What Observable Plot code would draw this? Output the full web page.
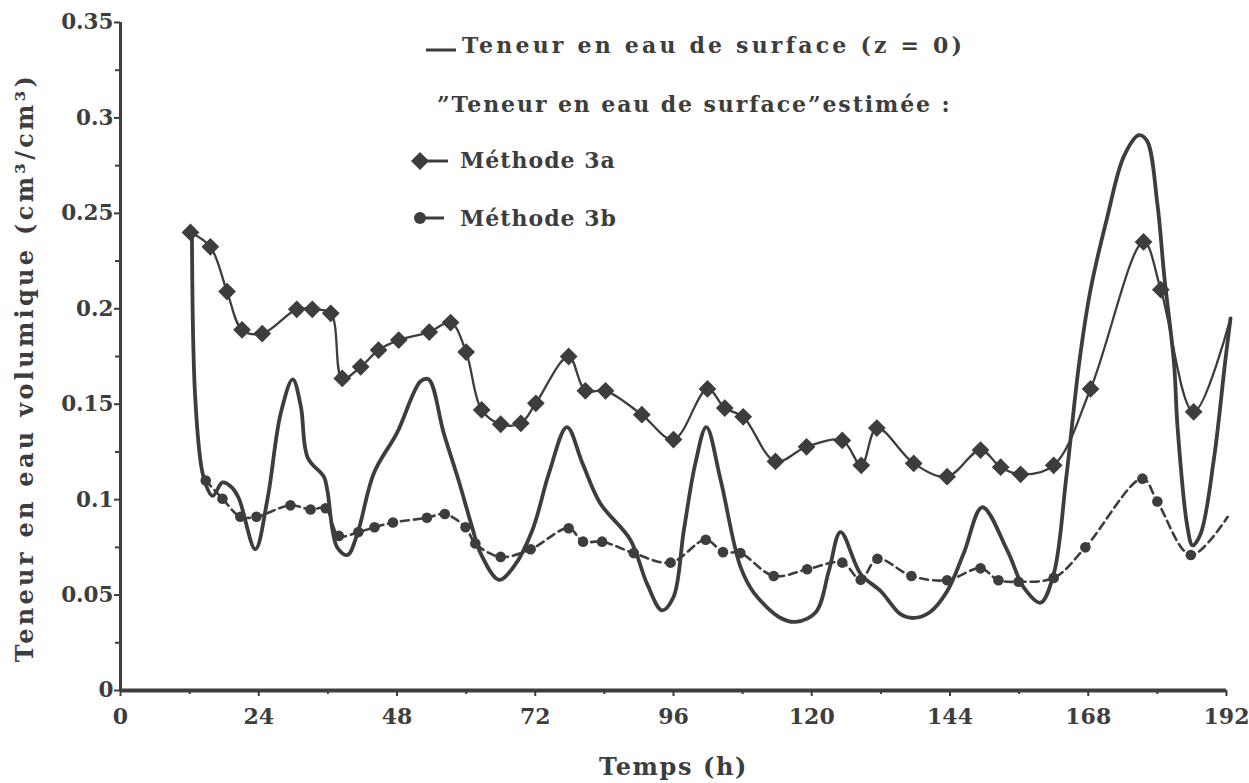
<!DOCTYPE html>
<html>
<head>
<meta charset="utf-8">
<script src="https://cdn.jsdelivr.net/npm/d3@7"></script>
<script src="https://cdn.jsdelivr.net/npm/@observablehq/plot@0.6"></script>
<style>
  html, body { margin: 0; padding: 0; background: #fff; }
  #wrap { position: relative; width: 1249px; height: 783px; }
  svg text { font-family: "DejaVu Serif", serif; font-weight: bold; fill: #3d3d3d; }
  .leg { position: absolute; font-family: "DejaVu Serif", serif; font-weight: bold; font-size: 22px;
         color: #3d3d3d; white-space: pre; line-height: 26px; }
  .sym { position: absolute; }
</style>
</head>
<body>
<div id="wrap"></div>
<script>
// ---- data ----
const surfaceT = [12.4,13.0,14.4,16.0,17.7,19.1,20.5,23.4,25.5,27.8,29.9,31.3,32.5,35.3,35.9,37.6,39.4,41.1,44.0,48.0,52.1,53.5,56.1,58.7,61.0,62.5,65.7,68.3,71.5,74.4,77.5,80.2,83.3,88.5,91.4,94.0,96.0,97.8,99.8,101.7,104.2,107.6,110.0,114.6,117.2,120.7,123.0,125.0,128.5,132.0,135.4,137.7,140.5,143.5,146.4,149.6,154.0,156.8,159.7,162.0,164.2,166.4,168.4,171.3,174.2,176.8,178.2,180.0,181.2,182.9,183.5,185.2,186.1,187.5,189.8,191.8,192.7];
const surfaceV = [0.240,0.152,0.112,0.102,0.109,0.107,0.101,0.074,0.100,0.145,0.163,0.149,0.122,0.112,0.105,0.075,0.071,0.082,0.114,0.135,0.162,0.163,0.135,0.110,0.086,0.072,0.058,0.065,0.084,0.114,0.138,0.119,0.098,0.079,0.056,0.042,0.049,0.084,0.119,0.138,0.110,0.065,0.051,0.038,0.036,0.041,0.063,0.083,0.061,0.052,0.040,0.038,0.041,0.052,0.072,0.096,0.073,0.054,0.046,0.061,0.112,0.171,0.210,0.248,0.280,0.291,0.288,0.255,0.217,0.171,0.138,0.086,0.076,0.082,0.121,0.173,0.195];

const m3aT = [12.15,15.6,18.5,21.1,24.6,30.6,33.3,36.5,38.5,41.7,44.8,48.3,53.6,57.3,60.0,62.7,66.0,69.5,72.1,77.8,80.7,84.2,90.5,96.0,101.9,104.9,108.1,113.7,119.1,125.3,128.6,131.3,137.7,143.5,149.3,152.8,156.25,162.0,168.4,177.6,180.6,186.3];
const m3aV = [0.240,0.2325,0.209,0.189,0.187,0.1997,0.1997,0.1976,0.1635,0.1696,0.1784,0.1836,0.1878,0.1928,0.1773,0.147,0.1395,0.140,0.1505,0.175,0.157,0.157,0.1445,0.1315,0.158,0.148,0.1434,0.120,0.1277,0.131,0.118,0.1375,0.119,0.112,0.126,0.117,0.1133,0.118,0.158,0.235,0.210,0.146];
const m3aEnd = [192.7, 0.195];

const m3bT = [14.8,17.7,20.8,23.6,29.5,33.0,35.6,37.9,41.3,44.1,47.3,53.2,56.3,59.9,61.6,66.0,71.2,77.8,80.3,83.6,89.1,95.5,101.6,104.6,107.6,113.4,119.2,125.3,128.5,131.4,137.3,143.5,149.3,152.4,155.9,162.0,167.5,177.4,180.0,185.8];
const m3bV = [0.110,0.1005,0.091,0.091,0.097,0.0948,0.0955,0.081,0.083,0.0855,0.088,0.0905,0.0925,0.0855,0.077,0.070,0.074,0.085,0.078,0.078,0.072,0.067,0.079,0.0725,0.072,0.060,0.0635,0.067,0.058,0.069,0.060,0.0578,0.064,0.0578,0.057,0.059,0.075,0.111,0.099,0.071];
const m3bEnd = [192.2, 0.091];

const xMajor = [0,24,48,72,96,120,144,168,192];
const xMinor = [12,36,60,84,108,132,156,180];
const yMajor = [0,0.05,0.1,0.15,0.2,0.25,0.3,0.35];
const yTickLabels = ["0","0.05","0.1","0.15","0.2","0.25","0.3","0.35"];
const yMinor = [0.025,0.075,0.125,0.175,0.225,0.275,0.325];

const xLabel = "Temps (h)";
const yLabel = "Teneur en eau volumique (cm³/cm³)";
const legendLabels = ["Teneur en eau de surface (z = 0)", "”Teneur en eau de surface”estimée :", "Méthode 3a", "Méthode 3b"];

// ---- build tables ----
const surface = surfaceT.map((t, i) => ({t, v: surfaceV[i]}));
const m3a = m3aT.map((t, i) => ({t, v: m3aV[i]}));
const m3b = m3bT.map((t, i) => ({t, v: m3bV[i]}));
const m3aLine = m3a.concat([{t: m3aEnd[0], v: m3aEnd[1]}]);
const m3bLine = m3b.concat([{t: m3bEnd[0], v: m3bEnd[1]}]);

const ink = "#3d3d3d";

const chart = Plot.plot({
  width: 1249,
  height: 783,
  marginLeft: 120,
  marginRight: 23,
  marginTop: 22,
  marginBottom: 93,
  x: {domain: [0, 192]},
  y: {domain: [0, 0.35]},
  style: {background: "#fff", color: ink, fontSize: "20px", fontFamily: "DejaVu Serif"},
  marks: [
    Plot.axisY({ticks: yMajor, tickFormat: (d, i) => yTickLabels[i], tickSize: 6, tickPadding: 1, fontSize: 21.5, label: null, stroke: ink, strokeWidth: 2}),
    Plot.axisY({ticks: yMinor, tickFormat: () => "", tickSize: 5, label: null, stroke: ink, strokeWidth: 2}),
    Plot.axisX({ticks: xMajor, tickSize: 6, tickPadding: 12, fontSize: 22, label: null, stroke: ink, strokeWidth: 2}),
    Plot.axisX({ticks: xMinor, tickFormat: () => "", tickSize: 4, label: null, stroke: ink, strokeWidth: 2}),
    Plot.ruleX([0], {stroke: ink, strokeWidth: 3}),
    Plot.ruleY([0], {stroke: ink, strokeWidth: 4}),
    Plot.text([yLabel], {frameAnchor: "left", textAnchor: "middle", rotate: -90, dx: -95, dy: 11, fontSize: 24, fill: ink}),
    Plot.text([xLabel], {frameAnchor: "bottom", dy: 84, fontSize: 24, fill: ink}),
    Plot.line(surface, {x: "t", y: "v", stroke: ink, strokeWidth: 3.8, curve: "catmull-rom"}),
    Plot.line(m3aLine, {x: "t", y: "v", stroke: ink, strokeWidth: 2.3, curve: "catmull-rom"}),
    Plot.line(m3bLine, {x: "t", y: "v", stroke: ink, strokeWidth: 2.6, strokeDasharray: "8,5", curve: "catmull-rom"}),
    Plot.dot(m3a, {x: "t", y: "v", symbol: "diamond2", r: 8, fill: ink, stroke: null}),
    Plot.dot(m3b, {x: "t", y: "v", symbol: "circle", r: 5.3, fill: ink, stroke: null})
  ]
});

// letter spacing of the axis titles (matched by their text)
chart.querySelectorAll("text").forEach(t => {
  if (t.textContent === yLabel) t.style.letterSpacing = "3.3px";
  if (t.textContent === xLabel) t.style.letterSpacing = "1.6px";
});

const wrap = document.getElementById("wrap");
wrap.appendChild(chart);

// ---- legend (HTML overlay) ----
function add(html, style, cls) {
  const el = document.createElement("div");
  el.className = cls;
  Object.assign(el.style, style);
  el.innerHTML = html;
  wrap.appendChild(el);
  return el;
}
add(`<svg width="34" height="10"><line x1="2" y1="5" x2="32" y2="5" stroke="${ink}" stroke-width="3"/></svg>`, {left: "424px", top: "41px"}, "sym");
add("", {left: "462px", top: "32px", letterSpacing: "3.2px"}, "leg").textContent = legendLabels[0];
add("", {left: "437px", top: "91px", letterSpacing: "1.9px"}, "leg").textContent = legendLabels[1];
add(`<svg width="44" height="22"><line x1="10" y1="11" x2="38" y2="11" stroke="${ink}" stroke-width="3"/><path d="M10,2 L19,11 L10,20 L1,11Z" fill="${ink}"/></svg>`, {left: "410px", top: "150px"}, "sym");
add("", {left: "460px", top: "147px", letterSpacing: "1px"}, "leg").textContent = legendLabels[2];
add(`<svg width="40" height="16"><line x1="8" y1="8" x2="32" y2="8" stroke="${ink}" stroke-width="3"/><circle cx="8" cy="8" r="6" fill="${ink}"/></svg>`, {left: "412px", top: "210px"}, "sym");
add("", {left: "460px", top: "205px", letterSpacing: "1px"}, "leg").textContent = legendLabels[3];
</script>
</body>
</html>
